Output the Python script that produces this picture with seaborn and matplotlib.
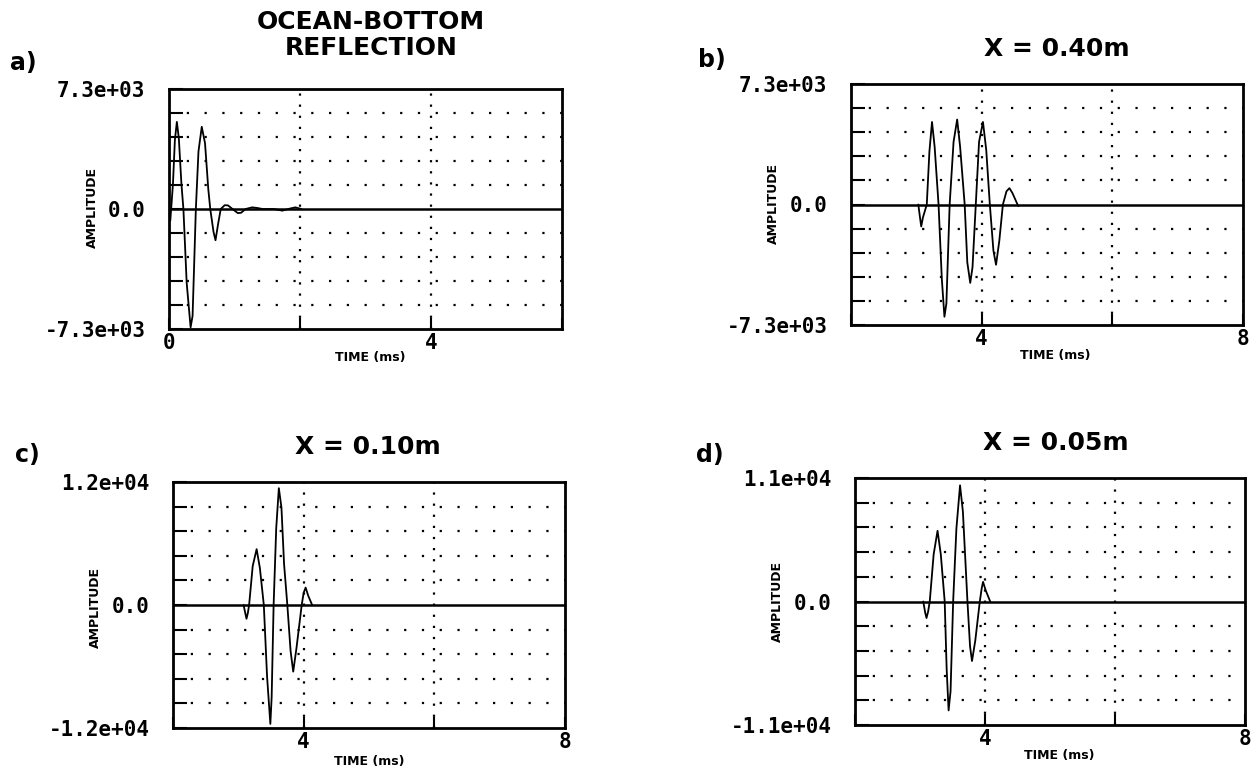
import matplotlib
matplotlib.use("Agg")
import matplotlib.pyplot as plt
import seaborn as sns

sns.set_style("white")
plt.rcParams["font.family"] = ["DejaVu Sans"]
plt.rcParams["text.color"] = "black"
plt.rcParams["axes.labelcolor"] = "black"
plt.rcParams["xtick.color"] = "black"
plt.rcParams["ytick.color"] = "black"

# ---- traces: time (ms) and amplitude -------------------------------------
a_time = [0.02, 0.06, 0.09, 0.12, 0.15, 0.19, 0.22, 0.27, 0.33, 0.36, 0.41,
          0.45, 0.50, 0.55, 0.60, 0.63, 0.68, 0.71, 0.75, 0.79, 0.85, 0.90,
          0.97, 1.05, 1.10, 1.17, 1.27, 1.35, 1.43, 1.60, 1.73, 1.85, 1.93,
          2.02]
a_amp = [-700, 1500, 4200, 5300, 4300, 1500, 0, -4500, -7200, -6500, 0,
         3500, 5000, 4000, 1200, 0, -1400, -1900, -900, 0, 230, 220,
         0, -250, -230, 0, 100, 60, 0, 0, -100, 30, 100,
         0]

b_time = [3.03, 3.06, 3.075, 3.10, 3.16, 3.20, 3.24, 3.28, 3.34, 3.39, 3.43,
          3.46, 3.51, 3.57, 3.625, 3.67, 3.74, 3.78, 3.825, 3.86, 3.91, 3.96,
          4.02, 4.07, 4.125, 4.18, 4.22, 4.27, 4.325, 4.38, 4.425, 4.47, 4.56]
b_amp = [0, -900, -1330, -800, 0, 3200, 5000, 3500, 0, -4500, -6800,
         -6000, 0, 3800, 5150, 3500, 0, -3500, -4750, -3800, 0, 3800,
         5000, 3300, 0, -2800, -3650, -2200, 0, 800, 990, 700, -100]

c_time = [3.08, 3.11, 3.125, 3.145, 3.165, 3.22, 3.28, 3.33, 3.39, 3.44,
          3.49, 3.51, 3.54, 3.58, 3.62, 3.66, 3.70, 3.75, 3.80, 3.84, 3.89,
          3.97, 4.00, 4.03, 4.07, 4.13]
c_amp = [0, -900, -1340, -800, 0, 3800, 5450, 3600, 0, -7000,
         -11600, -9000, 0, 7500, 11400, 9500, 4000, 0, -4500, -6500, -4200,
         0, 1200, 1700, 900, 0]

d_time = [3.05, 3.08, 3.10, 3.125, 3.15, 3.21, 3.27, 3.32, 3.38, 3.41, 3.44,
          3.47, 3.51, 3.56, 3.616, 3.66, 3.73, 3.77, 3.80, 3.85, 3.92, 3.95,
          3.97, 4.01, 4.08]
d_amp = [0, -1000, -1470, -900, 0, 4200, 6300, 4200, 0, -6000, -9700,
         -8000, 0, 6500, 10350, 8000, 0, -4000, -5300, -3500, 0, 1200,
         1750, 1000, 0]

# ---- panel annotation ----------------------------------------------------
panel_letters = ["a)", "b)", "c)", "d)"]
panel_titles = ["OCEAN-BOTTOM\nREFLECTION", "X = 0.40m", "X = 0.10m", "X = 0.05m"]
amp_limits = [7.3e3, 7.3e3, 1.2e4, 1.1e4]
amp_labels = [["7.3e+03", "0.0", "-7.3e+03"],
              ["7.3e+03", "0.0", "-7.3e+03"],
              ["1.2e+04", "0.0", "-1.2e+04"],
              ["1.1e+04", "0.0", "-1.1e+04"]]
time_ticks = [[0, 2, 4, 6], [2, 4, 6, 8], [2, 4, 6, 8], [2, 4, 6, 8]]
time_labels = [["0", "", "4", ""], ["", "4", "", "8"],
               ["", "4", "", "8"], ["", "4", "", "8"]]
xlabel_text = "TIME (ms)"
ylabel_text = "AMPLITUDE"

traces = [(a_time, a_amp), (b_time, b_amp), (c_time, c_amp), (d_time, d_amp)]

# ---- layout (pixel boxes: left, right, top, bottom) ----------------------
W, H = 1251, 771
boxes = [(169, 562, 89, 329), (851, 1243, 84, 325),
         (173, 565, 482, 728), (855, 1245, 478, 725)]
letter_pos = [(10, 63), (698, 60), (15, 455), (696, 455)]
title_pos = [(371, 35), (1057, 49), (368, 447), (1056, 443)]
ylab_pos = [(92, 208), (773, 203), (95, 608), (777, 602)]
xlab_pos = [(370, 358), (1055, 356), (369, 762), (1059, 755)]

fig = plt.figure(figsize=(W / 100, H / 100), dpi=100)
fig.patch.set_facecolor("white")

mono = ["DejaVu Sans Mono"]

for i in range(4):
    l, r, t, b = boxes[i]
    ax = fig.add_axes([l / W, 1 - b / H, (r - l) / W, (b - t) / H])
    ax.set_facecolor("white")

    lim = amp_limits[i]
    x0, x1 = time_ticks[i][0], time_ticks[i][-1]
    ax.set_xlim(x0, x1)
    ax.set_ylim(-lim, lim)

    # dotted grid: vertical at inner time ticks, horizontal at tenths
    for xv in time_ticks[i][1:-1]:
        ax.axvline(xv, color="black", lw=1.6, ls=(0, (1, 4)), zorder=1)
    yt = [-lim + k * lim / 5 for k in range(11)]
    for k, yv in enumerate(yt):
        if k not in (0, 5, 10):
            ax.axhline(yv, color="black", lw=1.6, ls=(0, (1, 7)), zorder=1)

    # zero reference line
    ax.axhline(0, color="black", lw=1.8, zorder=2)

    tt, aa = traces[i]
    sns.lineplot(x=tt, y=aa, ax=ax, color="black", lw=1.3,
                 estimator=None, sort=False, zorder=3)

    ax.set_yticks(yt)
    ylabels = ["" for _ in yt]
    ylabels[10], ylabels[5], ylabels[0] = amp_labels[i]
    ax.set_yticklabels(ylabels, family=mono, fontweight="bold", fontsize=15,
                       color="black")
    ax.set_xticks(time_ticks[i])
    ax.set_xticklabels(time_labels[i], family=mono, fontweight="bold",
                       fontsize=15, color="black")
    ax.tick_params(axis="y", direction="in", length=10, width=1.5,
                   left=True, right=False, pad=17, colors="black")
    ax.tick_params(axis="x", direction="in", length=8, width=1.5,
                   bottom=True, top=False, pad=3, colors="black")
    ax.set_xlabel("")
    ax.set_ylabel("")
    for sp in ax.spines.values():
        sp.set_visible(True)
        sp.set_color("black")
        sp.set_linewidth(2.0)

    # panel letter, title and axis captions
    lx, ly = letter_pos[i]
    fig.text(lx / W, 1 - ly / H, panel_letters[i], ha="left", va="center",
             fontsize=17, fontweight="bold", color="black")
    tx, ty = title_pos[i]
    fig.text(tx / W, 1 - ty / H, panel_titles[i], ha="center", va="center",
             fontsize=18, fontweight="bold", linespacing=1.15, color="black")
    yx, yy = ylab_pos[i]
    fig.text(yx / W, 1 - yy / H, ylabel_text, rotation=90, ha="center",
             va="center", fontsize=9, fontweight="bold", color="black")
    xx, xy = xlab_pos[i]
    fig.text(xx / W, 1 - xy / H, xlabel_text, ha="center", va="center",
             fontsize=9, fontweight="bold", color="black")

fig.savefig("out.png", dpi=100, facecolor="white")
